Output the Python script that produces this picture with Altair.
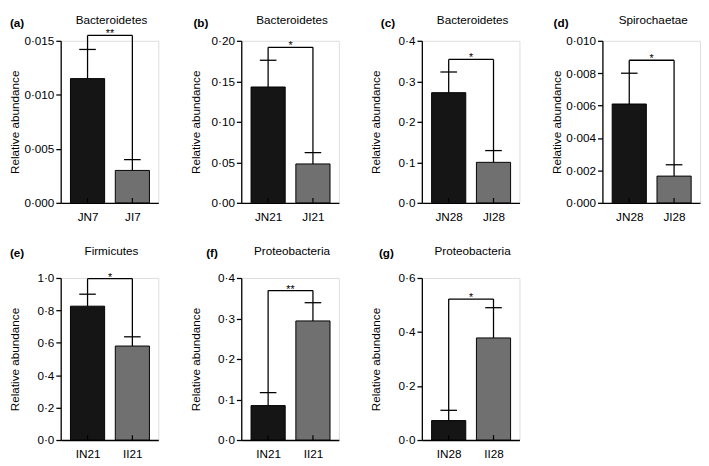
import altair as alt
import pandas as pd
import numpy as np

# ---------------- data ----------------
letters = ["(a)", "(b)", "(c)", "(d)", "(e)", "(f)", "(g)"]
phyla = ["Bacteroidetes", "Bacteroidetes", "Bacteroidetes", "Spirochaetae",
         "Firmicutes", "Proteobacteria", "Proteobacteria"]
groups = [["JN7", "JI7"], ["JN21", "JI21"], ["JN28", "JI28"], ["JN28", "JI28"],
          ["IN21", "II21"], ["IN21", "II21"], ["IN28", "II28"]]
means = [[0.0115, 0.0030], [0.143, 0.048], [0.272, 0.100], [0.0061, 0.00165],
         [0.826, 0.580], [0.085, 0.294], [0.072, 0.378]]
sems = [[0.0027, 0.0010], [0.033, 0.014], [0.051, 0.029], [0.0019, 0.0007],
        [0.074, 0.057], [0.032, 0.045], [0.038, 0.112]]
bracket_levels = [0.0155, 0.192, 0.354, 0.0088, 0.996, 0.369, 0.522]
significance = ["**", "*", "*", "*", "*", "**", "*"]
y_max = [0.015, 0.20, 0.4, 0.010, 1.0, 0.4, 0.6]
y_step = [0.005, 0.05, 0.1, 0.002, 0.2, 0.1, 0.2]
y_decimals = [3, 2, 1, 3, 1, 1, 1]

# ---------------- styling / layout ----------------
FONT = "Liberation Sans"
BAR_COLORS = ["#151515", "#707070"]
W, H = 100, 166
LINE_W = 1.3
letter_dx = [-52, -49, -42, -50, -52, -36, -44]
title_dy = [-21, -21, -21, -21, -28, -28, -28]
letter_dy = [-18, -18, -18, -18, -26, -25, -25]


def panel(i):
    n = len(groups[i])
    pos = list(range(n))
    tops = [m + s for m, s in zip(means[i], sems[i])]
    df = pd.DataFrame({"pos": pos, "group": groups[i], "mean": means[i],
                       "top": tops, "fill": BAR_COLORS[:n]})

    xs = alt.Scale(domain=[-0.49, 1.47], nice=False, zero=False)
    ys = alt.Scale(domain=[0, y_max[i]], nice=False, zero=True)

    expr = "'" + groups[i][-1] + "'"
    for k in range(n - 2, -1, -1):
        expr = f"datum.value == {k} ? '{groups[i][k]}' : " + expr
    x_axis = alt.Axis(values=pos, labelExpr=expr, title=None, grid=False,
                      ticks=False, tickSize=0, labelPadding=9, labelFontSize=12,
                      labelFont=FONT, labelColor="black", domainColor="black",
                      domainWidth=LINE_W, labelAngle=0, labelOverlap=False)
    ticks = [round(float(v), 6) for v in np.arange(0, y_max[i] + y_step[i] / 2, y_step[i])]
    d = y_decimals[i]
    y_axis = alt.Axis(values=ticks, tickCount=len(ticks) + 4,
                      labelExpr=f"replace(format(datum.value, '.{d}f'), '.', '·')",
                      title="Relative abundance", titleFont=FONT, titleFontSize=12,
                      titleFontWeight="normal", titleColor="black", grid=False,
                      tickSize=5, tickColor="black", tickWidth=LINE_W,
                      labelFont=FONT, labelFontSize=12, labelColor="black",
                      labelPadding=2, domainColor="black", domainWidth=LINE_W,
                      labelOverlap=False, labelFlush=False,
                      minExtent=36, maxExtent=36, titlePadding=4)

    base = alt.Chart(df)
    bars = base.mark_bar(size=35, stroke="black", strokeWidth=1, orient="vertical").encode(
        x=alt.X("pos:Q", scale=xs, axis=x_axis),
        y=alt.Y("mean:Q", scale=ys, axis=y_axis, stack=None),
        color=alt.Color("fill:N", scale=None),
    )
    err = base.mark_rule(color="black", strokeWidth=LINE_W).encode(
        x="pos:Q", y="mean:Q", y2="top:Q")
    caps = base.mark_rule(color="black", strokeWidth=LINE_W, xOffset=-8.5, x2Offset=8.5).encode(
        x="pos:Q", x2="pos:Q", y="top:Q")
    inner_ticks = base.mark_rule(color="black", strokeWidth=1.2).encode(
        x="pos:Q", y=alt.value(H), y2=alt.value(H - 5))

    b = bracket_levels[i]
    br = pd.DataFrame({"x": [0, 0, n - 1], "x2": [n - 1, 0, n - 1],
                       "y": [b, tops[0], tops[-1]], "y2": [b, b, b]})
    bracket = alt.Chart(br).mark_rule(color="black", strokeWidth=LINE_W).encode(
        x="x:Q", x2="x2:Q", y="y:Q", y2="y2:Q")
    star = alt.Chart(pd.DataFrame({"x": [(n - 1) / 2], "y": [b], "s": [significance[i]]})).mark_text(
        font=FONT, fontSize=11, baseline="alphabetic", align="center", dy=2,
        color="black", fill="black").encode(
        x="x:Q", y="y:Q", text="s:N")

    title = alt.Chart(pd.DataFrame({"t": [phyla[i]]})).mark_text(
        font=FONT, fontSize=12, baseline="middle", align="center", color="black",
        fill="black").encode(
        x=alt.value(W / 2 + 2), y=alt.value(title_dy[i]), text="t:N")
    letter = alt.Chart(pd.DataFrame({"t": [letters[i]]})).mark_text(
        font=FONT, fontSize=12, fontWeight="bold", baseline="middle", align="left",
        color="black", fill="black").encode(
        x=alt.value(letter_dx[i]), y=alt.value(letter_dy[i]), text="t:N")

    return alt.layer(bars, err, caps, inner_ticks, bracket, star, title, letter).properties(
        width=W, height=H)


row1 = alt.hconcat(*[panel(i) for i in range(4)], spacing=30)
row2 = alt.hconcat(*[panel(i) for i in range(4, 7)], spacing=30)
chart = alt.vconcat(row1, row2, spacing=21).properties(padding=0).configure_view(
    stroke=None).configure(background="white")

chart.save("out.html", embed_options={"renderer": "svg", "actions": False})
